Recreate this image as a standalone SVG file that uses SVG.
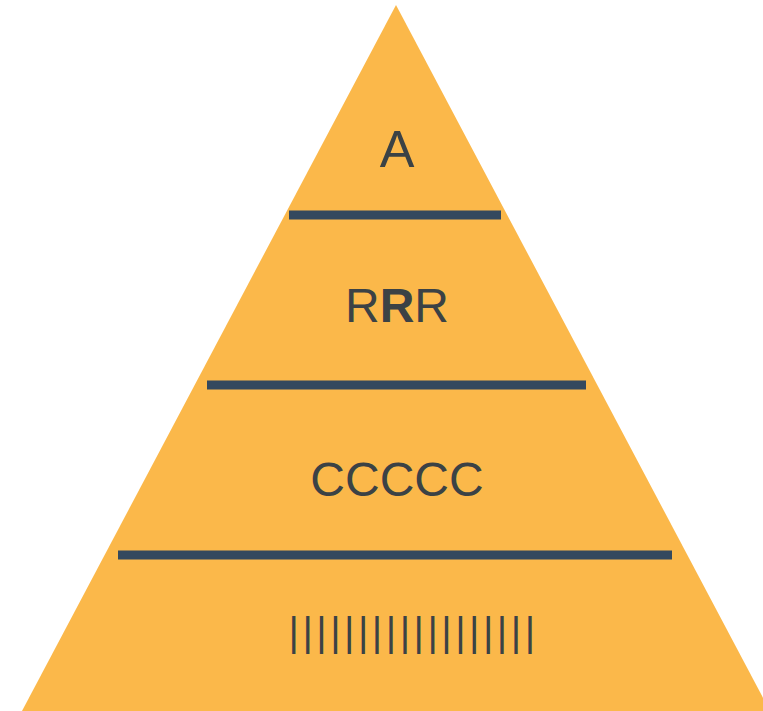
<svg xmlns="http://www.w3.org/2000/svg" width="763" height="711" viewBox="0 0 763 711">
<style>
.tier{fill:#FBB84A}
.sep{stroke:#34495E;stroke-width:9;stroke-linecap:butt}
.lbl{font-family:"Liberation Sans",Arial,sans-serif;fill:#3B4245;text-anchor:middle}
</style>
<rect width="763" height="711" fill="#FFFFFF"/>
<g id="pyramid">
<polygon class="tier" points="396,5 22,711 770,711"/>
</g>
<g id="connectors">
<line class="sep" x1="289" y1="215" x2="501" y2="215"/>
<line class="sep" x1="207" y1="385" x2="586" y2="385"/>
<line class="sep" x1="118" y1="555" x2="672" y2="555"/>
</g>
<g id="tier-A">
<text class="lbl" x="397" y="167" font-size="52">A</text>
</g>
<g id="tier-RRR">
<text class="lbl" x="397" y="322" font-size="48">R<tspan font-weight="bold">R</tspan>R</text>
</g>
<g id="tier-CCCCC">
<text class="lbl" x="397" y="496" font-size="48">CCCCC</text>
</g>
<g id="tier-bars">
<text x="288.5" y="646" font-size="40" letter-spacing="3.5" style="font-family:'Liberation Sans',Arial,sans-serif;fill:#3B4245">||||||||||||||||||</text>
</g>
</svg>
